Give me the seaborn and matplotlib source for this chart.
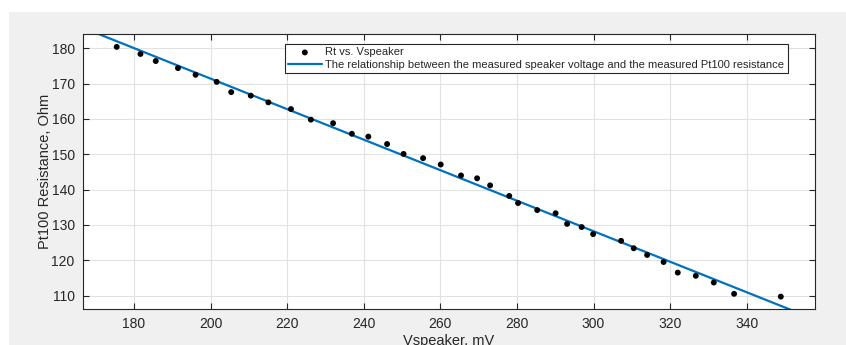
import matplotlib
matplotlib.use("Agg")
import matplotlib.pyplot as plt
from matplotlib.patches import Rectangle
import seaborn as sns
import pandas as pd

# measured points
v_speaker = [175.5, 181.7, 185.7, 191.5, 196.1, 201.6, 205.4, 210.5, 215.1, 221.0,
             226.2, 232.0, 236.9, 241.2, 246.1, 250.4, 255.5, 260.1, 265.4, 269.6,
             273.0, 278.0, 280.3, 285.3, 290.1, 293.1, 296.9, 299.9, 307.2, 310.5,
             314.0, 318.3, 322.0, 326.7, 331.4, 336.7, 348.9]
r_t = [180.4, 178.4, 176.4, 174.4, 172.5, 170.5, 167.6, 166.6, 164.7, 162.8,
       159.8, 158.8, 155.8, 155.0, 152.9, 150.1, 148.9, 147.1, 144.0, 143.2,
       141.2, 138.2, 136.2, 134.2, 133.3, 130.3, 129.4, 127.4, 125.5, 123.4,
       121.5, 119.5, 116.5, 115.6, 113.7, 110.5, 109.7]

# ends of the fitted line (clipped by the axes)
fit_x = [160.0, 360.0]
fit_y = [188.7, 102.3]

x_ticks = [180, 200, 220, 240, 260, 280, 300, 320, 340]
y_ticks = [110, 120, 130, 140, 150, 160, 170, 180]

label_pts = "Rt vs. Vspeaker"
label_fit = "The relationship between the measured speaker voltage and the measured Pt100 resistance"

sns.set_theme(style="whitegrid")
plt.rcParams['font.family'] = ['Liberation Sans', 'DejaVu Sans']
dark = "#262626"

fig = plt.figure(figsize=(8.46, 3.45), dpi=100, facecolor="white")
bg = Rectangle((9 / 846, 0), 1 - 9 / 846, (345 - 12) / 345,
               transform=fig.transFigure, facecolor="#f0f0f0",
               edgecolor="none", zorder=-10)
fig.patches.append(bg)
ax = fig.add_axes([83 / 846, 1 - 309 / 345, (814.5 - 83) / 846, (309 - 34) / 345])
ax.set_zorder(1)
ax.set_facecolor("white")

pts = pd.DataFrame({"v": v_speaker, "r": r_t})
fit = pd.DataFrame({"v": fit_x, "r": fit_y})
sns.scatterplot(data=pts, x="v", y="r", ax=ax, color="black", s=18,
                edgecolor="none", label=label_pts, zorder=3)
sns.lineplot(data=fit, x="v", y="r", ax=ax, color="#0072BD", linewidth=1.6,
             label=label_fit, zorder=2)

ax.set_xlim(166.7, 357.7)
ax.set_ylim(106.2, 184.05)
ax.set_xticks(x_ticks)
ax.set_yticks(y_ticks)
ax.grid(True, color="#e2e2e2", linewidth=0.8)
for s in ax.spines.values():
    s.set_color(dark)
    s.set_linewidth(0.8)
    s.set_visible(True)
ax.tick_params(direction="in", length=4, width=0.8, color=dark, labelcolor=dark,
               labelsize=10, top=True, right=True, bottom=True, left=True,
               labeltop=False, labelright=False, pad=6)

ax.set_xlabel("Vspeaker, mV", fontsize=10.5, color=dark, labelpad=2)
ax.set_ylabel("Pt100 Resistance, Ohm", fontsize=10.5, color=dark)
ax.yaxis.set_label_coords(-0.042, 0.5)

leg = ax.legend(loc="upper right", bbox_to_anchor=(0.9634, 0.9636), borderaxespad=0,
                fontsize=8, frameon=True, fancybox=False, framealpha=1,
                edgecolor=dark, handlelength=3.0, handletextpad=0.35,
                borderpad=0.3, labelspacing=0.2)
leg.get_frame().set_linewidth(0.8)
for t in leg.get_texts():
    t.set_color(dark)

fig.savefig("out.png", dpi=100, facecolor=fig.get_facecolor())
